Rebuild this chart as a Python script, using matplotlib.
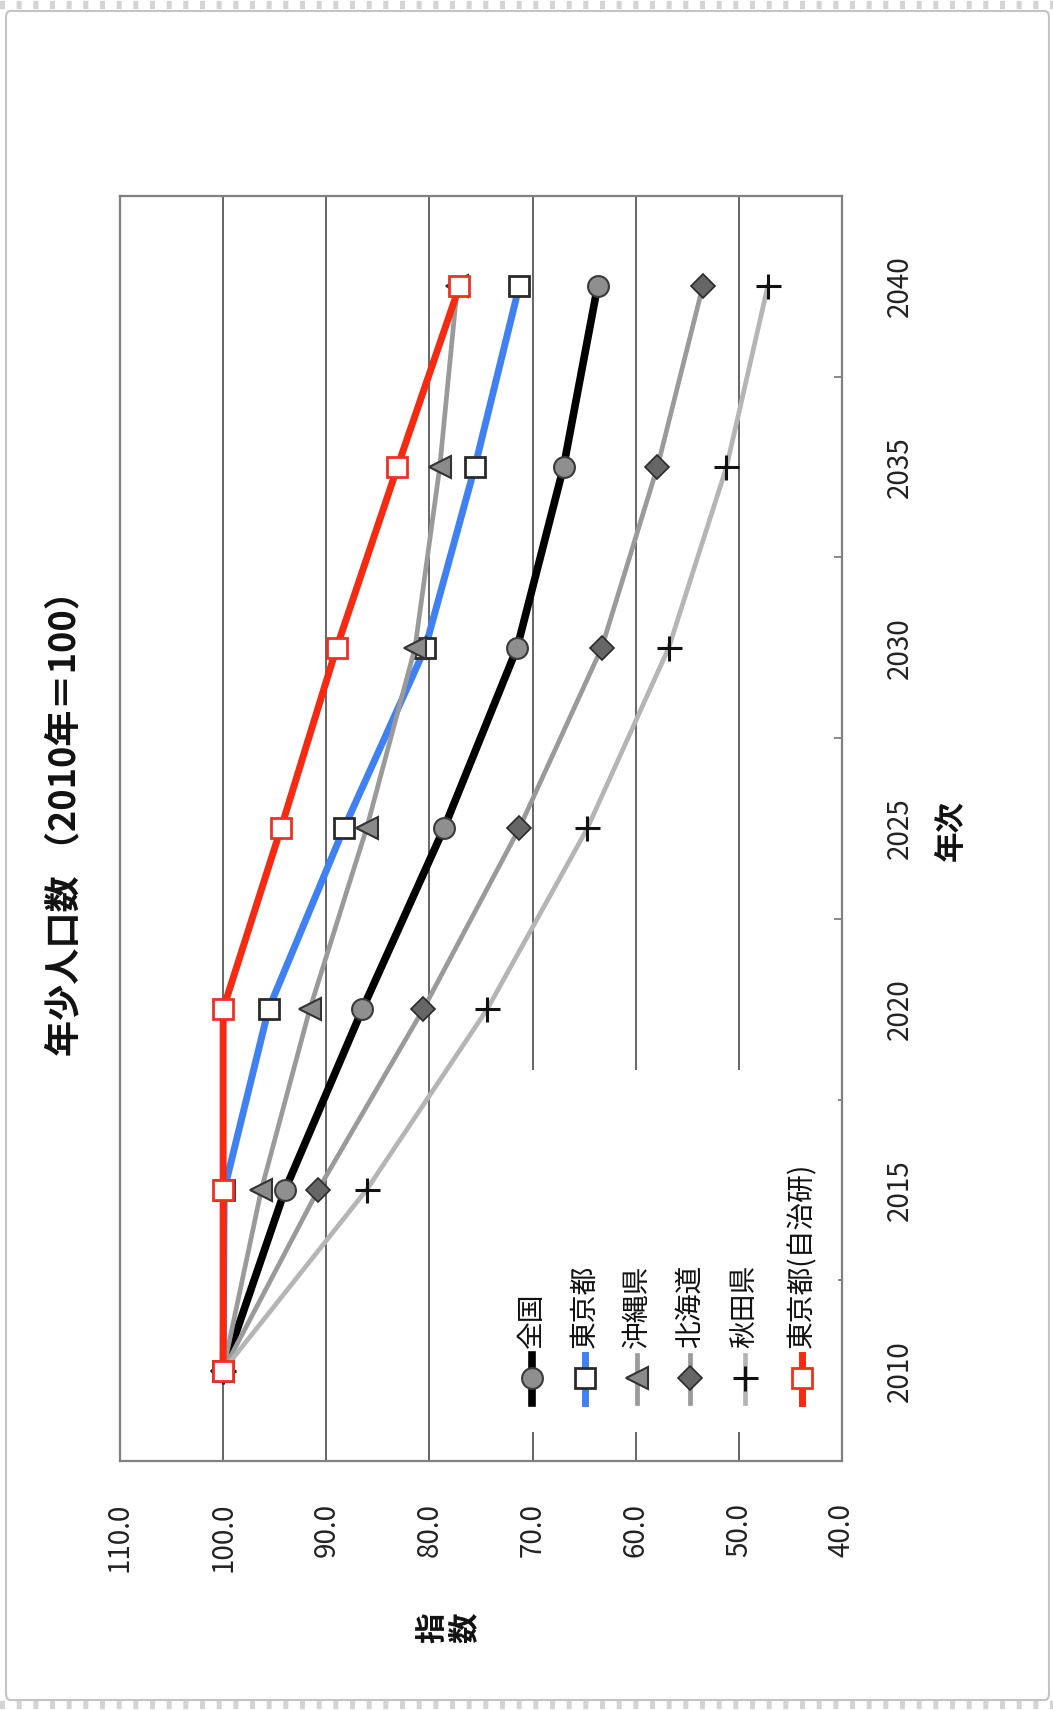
import numpy as np
import matplotlib.pyplot as plt
from matplotlib.lines import Line2D
from matplotlib.patches import Rectangle, FancyBboxPatch

plt.rcParams['font.family'] = ['Noto Sans CJK JP', 'DejaVu Sans']

# 年少人口指数 (2010年=100)
years = ['2010', '2015', '2020', '2025', '2030', '2035', '2040']
zenkoku = [100.0, 94.0, 86.5, 78.6, 71.5, 67.0, 63.7]
tokyo = [100.0, 99.9, 95.6, 88.3, 80.4, 75.6, 71.3]
okinawa = [100.0, 96.3, 91.6, 86.1, 81.4, 79.0, 77.3]
hokkaido = [100.0, 90.8, 80.6, 71.3, 63.3, 57.9, 53.5]
akita = [100.0, 86.1, 74.4, 64.7, 56.8, 51.2, 47.2]
tokyo_jichiken = [100.0, 100.0, 100.0, 94.4, 89.0, 83.1, 77.1]

names = ['全国', '東京都', '沖縄県', '北海道', '秋田県', '東京都(自治研)']
values = [zenkoku, tokyo, okinawa, hokkaido, akita, tokyo_jichiken]
xticks = [110, 100, 90, 80, 70, 60, 50, 40]
grid_vals = [100, 90, 80, 70, 60, 50]

# 系列ごとの書式
styles = [
    dict(color='#000000', lw=5.5, marker='o', ms=15, mfc='#8f8f8f', mec='#3a3a3a', mew=1.5),
    dict(color='#3f80f2', lw=5.0, marker='s', ms=15, mfc='white', mec='#2a2a2a', mew=2.0),
    dict(color='#9a9a9a', lw=3.4, marker='<', ms=16, mfc='#8a8a8a', mec='#333333', mew=1.5),
    dict(color='#9a9a9a', lw=3.4, marker='D', ms=12, mfc='#666666', mec='#2a2a2a', mew=1.2),
    dict(color='#b5b5b5', lw=3.4, marker='+', ms=18, mfc='none', mec='#111111', mew=2.2),
    dict(color='#f52a10', lw=5.0, marker='s', ms=15, mfc='white', mec='#f03020', mew=2.0),
]

fig = plt.figure(figsize=(10.53, 17.10), dpi=100)
fig.patch.set_facecolor('white')

# 外枠
fig.patches.append(FancyBboxPatch((6 / 1053, 1 - 1700 / 1710), 1043 / 1053, 1689 / 1710,
                                  boxstyle='round,pad=0,rounding_size=0.004',
                                  transform=fig.transFigure, fc='none', ec='#c4c4c4', lw=1.5))
for yy in (5 / 1710, 1 - 5 / 1710):
    fig.lines.append(Line2D([0, 1], [yy, yy], transform=fig.transFigure,
                            color='#d4d4d4', lw=6, dashes=(0.6, 1.4)))

ax = fig.add_axes([120 / 1053, 1 - 1461 / 1710, 722 / 1053, 1265 / 1710])
pos = np.arange(len(years))

for v in grid_vals:
    ax.axvline(v, color='#595959', lw=1.3, zorder=1)

for name, vals, st in zip(names, values, styles):
    ax.plot(vals, pos, color=st['color'], lw=st['lw'], marker=st['marker'],
            ms=st['ms'], mfc=st['mfc'], mec=st['mec'], mew=st['mew'],
            solid_joinstyle='round', zorder=3)

ax.set_xlim(110, 40)
ax.set_ylim(-0.5, len(years) - 0.5)
ax.set_xticks(xticks)
ax.set_xticklabels([f'{x:.1f}' for x in xticks], rotation=90, fontsize=20, color='#222222')
ax.tick_params(axis='x', length=0, pad=30)

ax.yaxis.tick_right()
ax.set_yticks(pos)
ax.set_yticklabels(years, rotation=90, fontsize=20, color='#222222', va='center')
ax.set_yticks(pos[:-1] + 0.5, minor=True)
ax.tick_params(axis='y', which='major', length=0, pad=31)
ax.tick_params(axis='y', which='minor', direction='in', length=6, width=1.3, color='#808080')

for sp in ax.spines.values():
    sp.set_color('#808080')
    sp.set_linewidth(1.6)

# 凡例 (縦書き)
ax.add_patch(Rectangle((0.512, 0.023), 0.483, 0.286, transform=ax.transAxes,
                       fc='white', ec='none', zorder=2))
leg_x = [0.571, 0.644, 0.716, 0.789, 0.865, 0.945]
for lx, name, st in zip(leg_x, names, styles):
    ax.add_line(Line2D([lx, lx], [0.0458, 0.0838], transform=ax.transAxes,
                       color=st['color'], lw=st['lw'], zorder=4))
    ax.add_line(Line2D([lx], [0.0656], transform=ax.transAxes, marker=st['marker'],
                       ms=st['ms'], mfc=st['mfc'], mec=st['mec'], mew=st['mew'],
                       ls='none', zorder=5))
    ax.text(lx, 0.089, name, transform=ax.transAxes, rotation=90, ha='center',
            va='bottom', fontsize=20, color='#111111', zorder=5)

fig.text(65 / 1053, 1 - 815 / 1710, '年少人口数 （2010年＝100）', rotation=90,
         ha='center', va='center', fontsize=26, fontweight='bold', color='#111111')
fig.text(951 / 1053, 1 - 830 / 1710, '年次', rotation=90, ha='center', va='center',
         fontsize=22, fontweight='bold', color='#111111')
fig.text(448 / 1053, 1 - 1628 / 1710, '指\n数', rotation=90, ha='center', va='center',
         fontsize=22, fontweight='bold', color='#111111', linespacing=1.0)

fig.savefig('out.png', dpi=100)
